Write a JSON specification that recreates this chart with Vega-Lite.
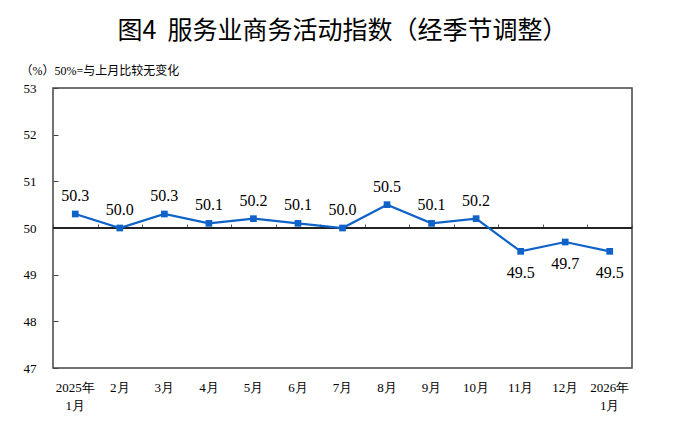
{
  "$schema": "https://vega.github.io/schema/vega-lite/v6.json",
  "width": 579,
  "height": 280,
  "autosize": "none",
  "padding": {"left": 53, "top": 88, "right": 48, "bottom": 53},
  "background": "white",
  "title": {
    "text": "图4\u00a0\u00a0服务业商务活动指数（经季节调整）",
    "font": "Noto Sans CJK SC",
    "fontSize": 25,
    "fontWeight": "normal",
    "color": "black",
    "anchor": "middle",
    "offset": 20
  },
  "config": {
    "view": {"stroke": "#444444", "strokeWidth": 1.5},
    "axis": {"labelColor": "black", "titleColor": "black", "grid": false}
  },
  "data": {
    "values": [
      {"month": "2025年|1月", "value": 50.3},
      {"month": "2月", "value": 50.0},
      {"month": "3月", "value": 50.3},
      {"month": "4月", "value": 50.1},
      {"month": "5月", "value": 50.2},
      {"month": "6月", "value": 50.1},
      {"month": "7月", "value": 50.0},
      {"month": "8月", "value": 50.5},
      {"month": "9月", "value": 50.1},
      {"month": "10月", "value": 50.2},
      {"month": "11月", "value": 49.5},
      {"month": "12月", "value": 49.7},
      {"month": "2026年|1月", "value": 49.5}
    ]
  },
  "resolve": {"axis": {"x": "independent"}},
  "layer": [
    {
      "mark": {"type": "rule", "color": "#222222", "strokeWidth": 1},
      "encoding": {"y": {"datum": 50, "type": "quantitative", "scale": {"domain": [47, 53], "nice": false, "zero": false}}}
    },
    {
      "mark": {"type": "line", "color": "#0f62c8", "strokeWidth": 2.2, "point": {"shape": "square", "size": 45, "filled": true, "color": "#0f62c8"}},
      "encoding": {
        "x": {
          "field": "month", "type": "ordinal", "sort": null,
          "axis": {
            "orient": "bottom", "title": null, "labelAngle": 0, "ticks": false, "domain": false,
            "labelExpr": "split(datum.value, '|')",
            "labelFont": "Liberation Serif", "labelFontSize": 13,
            "labelPadding": 13, "labelLineHeight": 18, "labelBaseline": "top"
          }
        },
        "y": {
          "field": "value", "type": "quantitative",
          "scale": {"domain": [47, 53], "nice": false, "zero": false},
          "axis": {
            "values": [47, 48, 49, 50, 51, 52, 53],
            "tickSize": -5, "tickColor": "#444444", "domain": false,
            "labelFont": "Liberation Serif", "labelFontSize": 13, "labelPadding": 22,
            "title": "（%）50%=与上月比较无变化",
            "titleAngle": 0, "titleAlign": "left", "titleBaseline": "middle",
            "titleX": -33, "titleY": -18,
            "titleFont": "Liberation Serif, Noto Sans CJK SC", "titleFontSize": 12, "titleFontWeight": "normal"
          }
        }
      }
    },
    {
      "transform": [{"filter": "datum.value >= 50"}],
      "mark": {"type": "text", "font": "Liberation Serif", "fontSize": 16, "color": "black", "baseline": "alphabetic", "dy": -13},
      "encoding": {
        "x": {
          "field": "month", "type": "ordinal", "sort": null,
          "axis": {"orient": "top", "offset": -140, "tickBand": "extent", "labels": false, "domain": false, "ticks": true, "tickSize": 4, "tickColor": "#555555", "tickWidth": 1, "title": null}
        },
        "y": {"field": "value", "type": "quantitative"},
        "text": {"field": "value", "type": "quantitative", "format": ".1f"}
      }
    },
    {
      "transform": [{"filter": "datum.value < 50"}],
      "mark": {"type": "text", "font": "Liberation Serif", "fontSize": 16, "color": "black", "baseline": "alphabetic", "dy": 27},
      "encoding": {
        "x": {"field": "month", "type": "ordinal", "sort": null, "axis": null},
        "y": {"field": "value", "type": "quantitative"},
        "text": {"field": "value", "type": "quantitative", "format": ".1f"}
      }
    }
  ]
}
